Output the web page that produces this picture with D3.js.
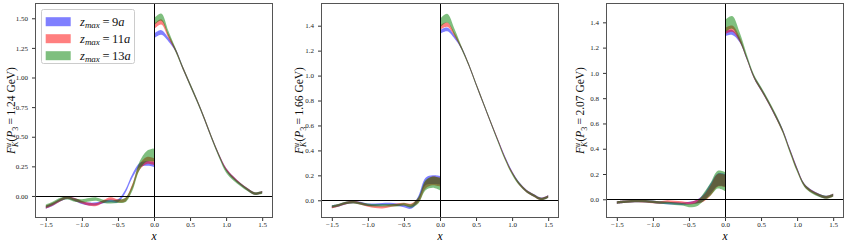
<!DOCTYPE html>
<html>
<head>
<meta charset="utf-8">
<script src="https://cdn.jsdelivr.net/npm/d3@7"></script>
<style>
body { margin: 0; background: #fff; }
svg { display: block; font-family: "Liberation Serif", "Times New Roman", serif; }
</style>
</head>
<body>
<svg id="chart"></svg>
<script>
// x grid, two segments (the distribution jumps at x = 0)
const xNeg = [-1.5, -1.4, -1.3, -1.2, -1.1, -1.0, -0.9, -0.8, -0.7, -0.6, -0.5, -0.4, -0.3, -0.2, -0.1, 0.0];
const xPos = [0.0, 0.1, 0.2, 0.3, 0.4, 0.5, 0.6, 0.7, 0.8, 0.9, 1.0, 1.1, 1.2, 1.3, 1.4, 1.5];

const xTicks = [-1.5, -1.0, -0.5, 0.0, 0.5, 1.0, 1.5];
const yTicks1 = [0, 0.25, 0.5, 0.75, 1.0, 1.25, 1.5];
const yTicks23 = [0, 0.2, 0.4, 0.6, 0.8, 1.0, 1.2, 1.4];

const momenta = ["1.24", "1.66", "2.07"];
const legendLabels = ["9", "11", "13"];
const colors = ["blue", "red", "green"];

// P3 = 1.24 GeV
const p1BlueNeg = [-0.095, -0.07, -0.035, -0.014, -0.03, -0.056, -0.068, -0.066, -0.05, -0.042, -0.04, 0.037, 0.17, 0.26, 0.275, 0.265];
const p1RedNeg = [-0.095, -0.068, -0.035, -0.012, -0.03, -0.052, -0.07, -0.072, -0.045, -0.022, -0.04, -0.034, 0.08, 0.245, 0.30, 0.29];
const p1GreenNeg = [-0.085, -0.06, -0.028, -0.016, -0.035, -0.042, -0.032, -0.026, -0.045, -0.05, -0.045, -0.036, 0.07, 0.255, 0.335, 0.345];
const p1BluePos = [1.35, 1.38, 1.32, 1.23, 1.08, 0.94, 0.80, 0.65, 0.49, 0.345, 0.225, 0.155, 0.10, 0.055, 0.02, 0.032];
const p1RedPos = [1.43, 1.47, 1.35, 1.23, 1.08, 0.94, 0.80, 0.65, 0.49, 0.345, 0.225, 0.155, 0.10, 0.055, 0.02, 0.032];
const p1GreenPos = [1.47, 1.51, 1.37, 1.23, 1.08, 0.94, 0.80, 0.65, 0.49, 0.34, 0.21, 0.145, 0.095, 0.052, 0.02, 0.03];
const p1BlueErrNeg = [0.012, 0.012, 0.012, 0.012, 0.012, 0.012, 0.012, 0.012, 0.012, 0.012, 0.012, 0.014, 0.016, 0.018, 0.02, 0.02];
const p1RedErrNeg = [0.012, 0.012, 0.012, 0.012, 0.012, 0.012, 0.012, 0.012, 0.012, 0.012, 0.012, 0.015, 0.02, 0.025, 0.03, 0.03];
const p1GreenErrNeg = [0.014, 0.014, 0.014, 0.014, 0.014, 0.014, 0.014, 0.014, 0.014, 0.014, 0.014, 0.018, 0.025, 0.035, 0.045, 0.055];
const p1BlueErrPos = [0.02, 0.02, 0.016, 0.012, 0.012, 0.012, 0.012, 0.012, 0.012, 0.012, 0.012, 0.012, 0.01, 0.01, 0.01, 0.01];
const p1RedErrPos = [0.022, 0.022, 0.018, 0.013, 0.012, 0.012, 0.012, 0.012, 0.012, 0.012, 0.012, 0.012, 0.01, 0.01, 0.01, 0.01];
const p1GreenErrPos = [0.03, 0.03, 0.022, 0.016, 0.015, 0.015, 0.015, 0.015, 0.015, 0.015, 0.015, 0.014, 0.012, 0.012, 0.012, 0.012];

// P3 = 1.66 GeV
const p2BlueNeg = [-0.05, -0.04, -0.022, -0.013, -0.022, -0.035, -0.035, -0.032, -0.03, -0.035, -0.045, -0.056, 0.015, 0.15, 0.165, 0.16];
const p2RedNeg = [-0.055, -0.04, -0.022, -0.014, -0.026, -0.042, -0.052, -0.056, -0.045, -0.035, -0.03, -0.038, 0.0, 0.125, 0.155, 0.145];
const p2GreenNeg = [-0.05, -0.038, -0.02, -0.015, -0.025, -0.035, -0.04, -0.04, -0.04, -0.04, -0.032, -0.045, 0.0, 0.12, 0.145, 0.13];
const p2BluePos = [1.35, 1.37, 1.31, 1.22, 1.085, 0.93, 0.78, 0.63, 0.485, 0.345, 0.225, 0.135, 0.075, 0.04, 0.012, 0.03];
const p2RedPos = [1.385, 1.41, 1.33, 1.22, 1.085, 0.93, 0.78, 0.63, 0.485, 0.34, 0.22, 0.13, 0.073, 0.038, 0.01, 0.03];
const p2GreenPos = [1.42, 1.46, 1.35, 1.22, 1.085, 0.93, 0.78, 0.63, 0.48, 0.335, 0.215, 0.13, 0.072, 0.038, 0.01, 0.028];
const p2BlueErrNeg = [0.01, 0.01, 0.01, 0.01, 0.01, 0.01, 0.01, 0.01, 0.01, 0.01, 0.01, 0.012, 0.02, 0.03, 0.035, 0.035];
const p2RedErrNeg = [0.01, 0.01, 0.01, 0.01, 0.01, 0.01, 0.01, 0.01, 0.01, 0.01, 0.01, 0.012, 0.02, 0.03, 0.035, 0.035];
const p2GreenErrNeg = [0.01, 0.01, 0.01, 0.01, 0.01, 0.01, 0.01, 0.01, 0.01, 0.01, 0.01, 0.014, 0.025, 0.04, 0.045, 0.05];
const p2BlueErrPos = [0.015, 0.015, 0.012, 0.01, 0.01, 0.01, 0.01, 0.01, 0.01, 0.01, 0.01, 0.01, 0.01, 0.01, 0.01, 0.01];
const p2RedErrPos = [0.018, 0.018, 0.014, 0.01, 0.01, 0.01, 0.01, 0.01, 0.01, 0.01, 0.01, 0.01, 0.01, 0.01, 0.01, 0.01];
const p2GreenErrPos = [0.035, 0.035, 0.025, 0.014, 0.012, 0.012, 0.012, 0.012, 0.012, 0.012, 0.012, 0.012, 0.01, 0.01, 0.01, 0.01];

// P3 = 2.07 GeV
const p3BlueNeg = [-0.026, -0.02, -0.015, -0.013, -0.015, -0.02, -0.026, -0.03, -0.032, -0.035, -0.03, -0.02, 0.012, 0.085, 0.155, 0.15];
const p3RedNeg = [-0.026, -0.02, -0.015, -0.013, -0.016, -0.022, -0.025, -0.018, -0.022, -0.026, -0.032, -0.02, 0.005, 0.07, 0.15, 0.145];
const p3GreenNeg = [-0.026, -0.02, -0.015, -0.013, -0.015, -0.02, -0.026, -0.03, -0.035, -0.04, -0.05, -0.042, 0.015, 0.08, 0.155, 0.14];
const p3BluePos = [1.31, 1.32, 1.26, 1.12, 0.97, 0.87, 0.77, 0.66, 0.545, 0.39, 0.24, 0.115, 0.065, 0.035, 0.018, 0.034];
const p3RedPos = [1.33, 1.35, 1.27, 1.12, 0.97, 0.87, 0.77, 0.66, 0.54, 0.385, 0.235, 0.112, 0.063, 0.034, 0.017, 0.033];
const p3GreenPos = [1.37, 1.40, 1.29, 1.13, 0.975, 0.875, 0.775, 0.665, 0.54, 0.38, 0.23, 0.11, 0.06, 0.032, 0.016, 0.032];
const p3BlueErrNeg = [0.01, 0.01, 0.01, 0.01, 0.01, 0.01, 0.01, 0.01, 0.01, 0.01, 0.01, 0.014, 0.025, 0.04, 0.05, 0.05];
const p3RedErrNeg = [0.01, 0.01, 0.01, 0.01, 0.01, 0.01, 0.01, 0.01, 0.01, 0.01, 0.01, 0.014, 0.025, 0.04, 0.05, 0.05];
const p3GreenErrNeg = [0.01, 0.01, 0.01, 0.01, 0.01, 0.01, 0.01, 0.01, 0.01, 0.01, 0.012, 0.016, 0.03, 0.05, 0.07, 0.075];
const p3BlueErrPos = [0.02, 0.02, 0.015, 0.012, 0.012, 0.012, 0.012, 0.012, 0.012, 0.012, 0.012, 0.01, 0.01, 0.01, 0.01, 0.01];
const p3RedErrPos = [0.025, 0.025, 0.02, 0.012, 0.012, 0.012, 0.012, 0.012, 0.012, 0.012, 0.012, 0.01, 0.01, 0.01, 0.01, 0.01];
const p3GreenErrPos = [0.05, 0.05, 0.035, 0.02, 0.015, 0.015, 0.015, 0.015, 0.015, 0.015, 0.015, 0.012, 0.012, 0.012, 0.012, 0.012];

const W = 848, H = 246;
const plotTop = 3, plotH = 215, plotW = 238;

const panels = [
    {
        left: 35, yDomain: [-0.186, 1.629], yTicks: yTicks1, yFmt: ".2f", labelX: -20, p: momenta[0],
        series: [
            { neg: p1BlueNeg, pos: p1BluePos, eNeg: p1BlueErrNeg, ePos: p1BlueErrPos },
            { neg: p1RedNeg, pos: p1RedPos, eNeg: p1RedErrNeg, ePos: p1RedErrPos },
            { neg: p1GreenNeg, pos: p1GreenPos, eNeg: p1GreenErrNeg, ePos: p1GreenErrPos }
        ],
        legend: true
    },
    {
        left: 321, yDomain: [-0.142, 1.582], yTicks: yTicks23, yFmt: ".1f", labelX: -18, p: momenta[1],
        series: [
            { neg: p2BlueNeg, pos: p2BluePos, eNeg: p2BlueErrNeg, ePos: p2BlueErrPos },
            { neg: p2RedNeg, pos: p2RedPos, eNeg: p2RedErrNeg, ePos: p2RedErrPos },
            { neg: p2GreenNeg, pos: p2GreenPos, eNeg: p2GreenErrNeg, ePos: p2GreenErrPos }
        ]
    },
    {
        left: 606, yDomain: [-0.148, 1.553], yTicks: yTicks23, yFmt: ".1f", labelX: -22, p: momenta[2],
        series: [
            { neg: p3BlueNeg, pos: p3BluePos, eNeg: p3BlueErrNeg, ePos: p3BlueErrPos },
            { neg: p3RedNeg, pos: p3RedPos, eNeg: p3RedErrNeg, ePos: p3RedErrPos },
            { neg: p3GreenNeg, pos: p3GreenPos, eNeg: p3GreenErrNeg, ePos: p3GreenErrPos }
        ]
    }
];

const svg = d3.select("#chart").attr("width", W).attr("height", H);

panels.forEach(drawPanel);

function drawPanel(cfg) {
    const g = svg.append("g").attr("transform", `translate(${cfg.left}, ${plotTop})`);

    const x = d3.scaleLinear().domain([-1.65, 1.65]).range([0, plotW]);
    const y = d3.scaleLinear().domain(cfg.yDomain).range([plotH, 0]);

    const area = d3.area()
        .x((d) => x(d.x))
        .y0((d) => y(d.lo))
        .y1((d) => y(d.hi))
        .curve(d3.curveCatmullRom.alpha(0.5));

    cfg.series.forEach((s, k) => {
        [[xNeg, s.neg, s.eNeg], [xPos, s.pos, s.ePos]].forEach(([xs, vs, es]) => {
            const pts = xs.map((xv, i) => ({ x: xv, lo: vs[i] - es[i], hi: vs[i] + es[i] }));
            g.append("path")
                .attr("d", area(pts))
                .attr("fill", colors[k])
                .attr("fill-opacity", 0.5);
        });
    });

    // zero lines
    g.append("line")
        .attr("x1", 0).attr("x2", plotW)
        .attr("y1", Math.round(y(0)) + 0.5).attr("y2", Math.round(y(0)) + 0.5)
        .attr("stroke", "#000").attr("stroke-width", 1);
    g.append("line")
        .attr("x1", Math.round(x(0)) + 0.5).attr("x2", Math.round(x(0)) + 0.5)
        .attr("y1", 0).attr("y2", plotH)
        .attr("stroke", "#000").attr("stroke-width", 1);

    const xAxis = g.append("g")
        .attr("transform", `translate(0, ${plotH})`)
        .call(d3.axisBottom(x).tickValues(xTicks).tickSize(3).tickPadding(1.5).tickFormat(d3.format(".1f")));
    const yAxis = g.append("g")
        .call(d3.axisLeft(y).tickValues(cfg.yTicks).tickSize(3).tickPadding(4).tickFormat(d3.format(cfg.yFmt)));

    [xAxis, yAxis].forEach((a) => {
        a.attr("font-family", null).attr("font-size", null);
        a.select(".domain").remove();
        a.selectAll("line").attr("stroke", "#333");
        a.selectAll("text").attr("font-size", "7px").attr("fill", "#222");
    });

    // frame
    g.append("rect")
        .attr("x", 0.5).attr("y", 0.5)
        .attr("width", plotW - 1).attr("height", plotH - 1)
        .attr("fill", "none")
        .attr("stroke", "#555")
        .attr("stroke-width", 1);

    // x label
    g.append("text")
        .attr("x", plotW / 2)
        .attr("y", plotH + 22)
        .attr("text-anchor", "middle")
        .attr("font-size", "11.5px")
        .attr("font-style", "italic")
        .text("x");

    // y label: F^u_K(P_3 = ... GeV)
    const lab = g.append("text")
        .attr("transform", `translate(${cfg.labelX}, ${plotH / 2}) rotate(-90)`)
        .attr("text-anchor", "middle")
        .attr("font-size", "11.5px")
        .attr("fill", "#111");
    lab.append("tspan").attr("font-style", "italic").text("F");
    lab.append("tspan").attr("font-style", "italic").attr("font-size", "8px").attr("dy", -4.5).text("u");
    lab.append("tspan").attr("font-style", "italic").attr("font-size", "8px").attr("dx", -4).attr("dy", 7.5).text("K");
    lab.append("tspan").attr("dy", -3).text("(");
    lab.append("tspan").attr("font-style", "italic").text("P");
    lab.append("tspan").attr("font-size", "8px").attr("dy", 2.5).text("3");
    lab.append("tspan").attr("dy", -2.5).text(`\u2009=\u2009${cfg.p} GeV)`);

    if (cfg.legend) drawLegend(g);
}

function drawLegend(g) {
    const lg = g.append("g").attr("transform", "translate(6, 6)");
    lg.append("rect")
        .attr("x", 0.5).attr("y", 0.5)
        .attr("width", 93).attr("height", 54)
        .attr("rx", 2)
        .attr("fill", "#fff")
        .attr("fill-opacity", 0.8)
        .attr("stroke", "#ccc");

    legendLabels.forEach((lbl, i) => {
        const cy = 12.7 + i * 17;
        lg.append("rect")
            .attr("x", 4.7).attr("y", cy - 4.5)
            .attr("width", 25).attr("height", 9)
            .attr("fill", colors[i])
            .attr("fill-opacity", 0.5);
        const t = lg.append("text")
            .attr("x", 39)
            .attr("y", cy + 4)
            .attr("font-size", "12.5px")
            .attr("fill", "#111");
        t.append("tspan").attr("font-style", "italic").text("z");
        t.append("tspan").attr("font-style", "italic").attr("font-size", "9px").attr("dy", 2.5).text("max");
        t.append("tspan").attr("dy", -2.5).text(`\u2009=\u2009${lbl}`);
        t.append("tspan").attr("font-style", "italic").text("a");
    });
}
</script>
</body>
</html>
